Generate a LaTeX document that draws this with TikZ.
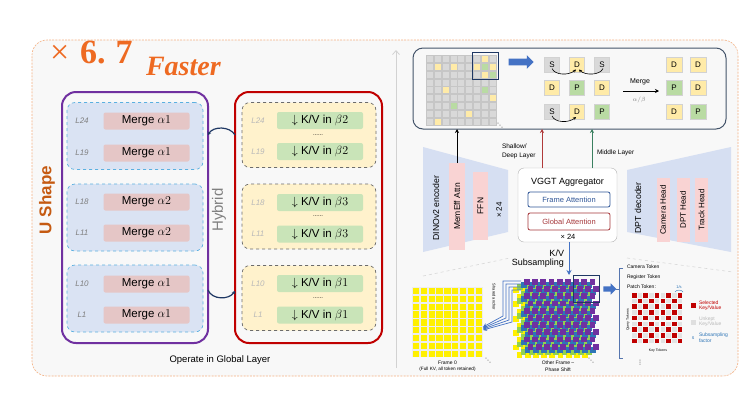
\documentclass[tikz,border=0pt]{standalone}
\usepackage{fontspec}
\setmainfont{Liberation Sans}
\newfontfamily\serifrm{Liberation Serif}
\newfontfamily\djv{DejaVu Sans}
\usetikzlibrary{arrows.meta,shapes.arrows,calc}
\newcommand\fsz[1]{\fontsize{#1}{#1}\selectfont}
\definecolor{orangeb}{HTML}{F4B183}
\definecolor{panelbg}{HTML}{F8F8F8}
\definecolor{upurple}{HTML}{7030A0}
\definecolor{hred}{HTML}{C00000}
\definecolor{bluedash}{HTML}{5BB0E0}
\definecolor{lblue}{HTML}{DAE3F3}
\definecolor{lyel}{HTML}{FFF2CC}
\definecolor{pinkpill}{HTML}{E5C6C6}
\definecolor{greenpill}{HTML}{C9E4B8}
\definecolor{navy}{HTML}{1F3864}
\definecolor{boxnavy}{HTML}{44546A}
\definecolor{fatblue}{HTML}{4472C4}
\definecolor{tgray}{HTML}{D9D9D9}
\definecolor{tyel}{HTML}{FFEBA8}
\definecolor{tgreen}{HTML}{B9DBA3}
\definecolor{encblue}{HTML}{D6DFF2}
\definecolor{lpink}{HTML}{F9D3D3}
\definecolor{attblue}{HTML}{2F5597}
\definecolor{attred}{HTML}{A5373A}
\definecolor{arrred}{HTML}{B03A3A}
\definecolor{arrgreen}{HTML}{3A8060}
\definecolor{fyel}{HTML}{FFF000}
\definecolor{spurple}{HTML}{7030A0}
\definecolor{sblue}{HTML}{2E75B6}
\definecolor{sgreen}{HTML}{92D050}
\definecolor{chkred}{HTML}{C00000}
\definecolor{ushapec}{HTML}{C55A11}
\definecolor{fastc}{HTML}{EE6A22}
\begin{document}
\begin{tikzpicture}[x=1pt,y=-1pt,
  every node/.style={inner sep=0pt,outer sep=0pt},
  grpU/.style={draw=bluedash,dashed,line width=0.7pt,fill=lblue,rounded corners=8pt,minimum width=136pt,minimum height=67pt},
  grpH/.style={draw=gray!85!black,dashed,line width=0.7pt,fill=lyel,rounded corners=8pt,minimum width=134pt,minimum height=65pt},
  mergepill/.style={fill=pinkpill,rounded corners=2pt,minimum width=86pt,minimum height=17pt,font=\fsz{11.5}},
  kvpill/.style={fill=greenpill,rounded corners=2pt,minimum width=86pt,minimum height=17pt,font=\fsz{11.5}},
  laylab/.style={font=\fsz{8}\itshape,text=gray},
  laylabh/.style={font=\fsz{8}\itshape,text=gray!55},
  tile/.style={minimum width=15pt,minimum height=15pt,font=\fsz{8},draw=gray!35,line width=.4pt},
  tS/.style={tile,fill=tgray},
  tD/.style={tile,fill=tyel},
  tP/.style={tile,fill=tgreen},
  vpill/.style={rotate=90,fill=lpink,font=\fsz{8.5}},
  hybc/.style={navy,line width=1.2pt,-{Stealth[length=3pt,width=4pt]}},
  tiny/.style={font=\fsz{5}},
  dotsym/.style={font=\djv\fsz{6}},
  curv/.style={line width=.6pt,-{Stealth[length=3pt,width=3pt]}},
  fat/.style={single arrow,fill=fatblue,inner xsep=0pt,inner ysep=3.2pt,single arrow head extend=3.5pt}
]
\useasboundingbox (0,0) rectangle (750,400);
\fill[white] (0,0) rectangle (750,400);
\node[draw=orangeb,fill=panelbg,dash pattern=on 2pt off 1.2pt,line width=.6pt,rounded corners=15pt,minimum width=706pt,minimum height=336pt] (panel) at (385,208) {};

% title
\node[anchor=base west,text=fastc,font=\serifrm\fsz{34}] (speed) at (50,63) {×\hspace{11pt}\textbf{6.\hspace{10pt}7}};
\node[anchor=base west,text=fastc,font=\serifrm\bfseries\itshape\fsz{28}] (faster) at (146,75) {Faster};

% divider
\coordinate (dvt) at (396,50);
\coordinate (dvb) at (396,368);
\draw[gray!35,line width=.8pt,-{Straight Barb[length=4pt,width=7pt]}] (dvb) -- (dvt);

% ---------- U shape ----------
\node[draw=upurple,line width=2pt,rounded corners=14pt,minimum width=146pt,minimum height=251pt] (ub) at (135,217.5) {};
\node[grpU] (u1) at (135,136) {};
\node[grpU] (u2) at (135,217.5) {};
\node[grpU] (u3) at (135,298.5) {};
\node[mergepill] (m1) at (146.5,121) {Merge $\alpha1$};
\node[mergepill] (m2) at (146.5,153) {Merge $\alpha1$};
\node[mergepill] (m3) at (146.5,202) {Merge $\alpha2$};
\node[mergepill] (m4) at (146.5,233) {Merge $\alpha2$};
\node[mergepill] (m5) at (146.5,284) {Merge $\alpha1$};
\node[mergepill] (m6) at (146.5,315) {Merge $\alpha1$};
\node[laylab] (la1) at (82,121) {L24};
\node[laylab] (la2) at (82,153) {L19};
\node[laylab] (la3) at (82,202) {L18};
\node[laylab] (la4) at (82,233) {L11};
\node[laylab] (la5) at (82,284) {L10};
\node[laylab] (la6) at (82,315) {L1};
\node[rotate=90,font=\bfseries\fsz{17},text=ushapec] (ulab) at (47,200) {U Shape};

% ---------- Hybrid ----------
\node[draw=hred,line width=2pt,rounded corners=14pt,minimum width=147pt,minimum height=251pt] (hb) at (308.5,217.5) {};
\node[grpH] (h1) at (309,135) {};
\node[grpH] (h2) at (309,216.5) {};
\node[grpH] (h3) at (309,298) {};
\node[kvpill] (k1) at (320,120.5) {$\downarrow$ K/V in $\beta2$};
\node[kvpill] (k2) at (320,151.5) {$\downarrow$ K/V in $\beta2$};
\node[kvpill] (k3) at (320,202.5) {$\downarrow$ K/V in $\beta3$};
\node[kvpill] (k4) at (320,234) {$\downarrow$ K/V in $\beta3$};
\node[kvpill] (k5) at (320,283.5) {$\downarrow$ K/V in $\beta1$};
\node[kvpill] (k6) at (320,315) {$\downarrow$ K/V in $\beta1$};
\node[font=\fsz{6}] (d1) at (318,135) {......};
\node[font=\fsz{6}] (d2) at (318,216.5) {......};
\node[font=\fsz{6}] (d3) at (318,298) {......};
\node[laylabh] (lb1) at (258,120.5) {L24};
\node[laylabh] (lb2) at (258,151.5) {L19};
\node[laylabh] (lb3) at (258,202.5) {L18};
\node[laylabh] (lb4) at (258,234) {L11};
\node[laylabh] (lb5) at (258,283.5) {L10};
\node[laylabh] (lb6) at (258,315) {L1};
\node[rotate=90,font=\fsz{15},text=gray] (hlab) at (219,210) {Hybrid};
\coordinate (ha1) at (208,135);
\coordinate (hb1) at (235,135);
\coordinate (ha2) at (208,290);
\coordinate (hb2) at (235,291);
\draw[hybc] (hb1) .. controls (230,126) and (213,126) .. (ha1);
\draw[hybc] (ha2) .. controls (212,300) and (229,300) .. (hb2);
\node[font=\fsz{9.5}] (opl) at (220,360) {Operate in Global Layer};

% ---------- top right box ----------
\node[draw=boxnavy,line width=1pt,rounded corners=10pt,minimum width=313pt,minimum height=81pt] (topbox) at (569.5,88.5) {};
\foreach \i in {0,...,8}{\foreach \j in {0,...,8}{
  \filldraw[fill=tgray,draw=gray!45,line width=.3pt] ({426+\i*7.9},{55+\j*7.9}) rectangle +(7,7);}}
\foreach \i/\j/\c in {1/1/tyel,3/1/tyel,7/0/tyel,6/1/tyel,7/1/tgreen,8/1/tyel,7/2/tyel,8/2/tgreen,2/4/tyel,7/4/tgreen,8/5/tyel,3/6/tgreen,5/7/tyel,1/8/tyel}{
  \filldraw[fill=\c,draw=gray!45,line width=.3pt] ({426+\i*7.9},{55+\j*7.9}) rectangle +(7,7);}
\node[draw=navy,line width=1pt,minimum width=26pt,minimum height=27pt] (hl1) at (485,66) {};
\node[dotsym] (dd0) at (500,126) {⋱};
\node[fat,minimum height=25pt] (fa1) at (519.5,62) {};
\node[tS] (t11) at (552,64.5) {S};
\node[tD] (t12) at (577,64.5) {D};
\node[tS] (t13) at (602,64.5) {S};
\node[tD] (t21) at (552,88) {D};
\node[tP] (t22) at (577,88) {P};
\node[tD] (t23) at (602,88) {D};
\node[tS] (t31) at (552,112) {S};
\node[tD] (t32) at (577,112) {D};
\node[tP] (t33) at (602,112) {P};
\draw[curv] ($(t11.center)+(0,4)$) .. controls ($(t11.center)+(3,11)$) and ($(t12.center)+(-8,11)$) .. ($(t12.center)+(-1,5)$);
\draw[curv] ($(t13.center)+(1,4)$) .. controls ($(t13.center)+(-2,11)$) and ($(t12.center)+(8,11)$) .. ($(t12.center)+(2,5)$);
\draw[curv] ($(t31.center)+(0,4)$) .. controls ($(t31.center)+(3,11)$) and ($(t32.center)+(-8,11)$) .. ($(t32.center)+(-1,5)$);
\node[tD,minimum width=16pt] (r11) at (674,64.5) {D};
\node[tD,minimum width=16pt] (r12) at (698,64.5) {D};
\node[tP,minimum width=16pt] (r21) at (674,88) {P};
\node[tD,minimum width=16pt] (r22) at (698,88) {D};
\node[tD,minimum width=16pt] (r31) at (674,112) {D};
\node[tP,minimum width=16pt] (r32) at (698,112) {P};
\coordinate (ma) at (623,91);
\coordinate (mb) at (659,91);
\draw[line width=.7pt,-{Stealth[length=4pt,width=4pt]}] (ma) -- (mb);
\node[font=\fsz{7}] (mgl) at (640,82) {Merge};
\node[font=\fsz{6},text=gray] (abl) at (639,99.5) {$\alpha/\beta$};

% ---------- encoder ----------
\fill[encblue] (423,147) -- (508,170) -- (508,232) -- (423,252) -- cycle;
\node[rotate=90,font=\fsz{8.7}] (dino) at (436,208) {DINOv2 encoder};
\node[vpill,minimum width=87pt,minimum height=16pt] (mem) at (457,206.5) {MemEff Attn};
\node[vpill,minimum width=68pt,minimum height=15pt] (ffn) at (480.5,206) {FFN};
\node[rotate=90,font=\fsz{8}] (x24a) at (499,210) {× 24};

% ---------- decoder ----------
\fill[encblue] (627,170) -- (731,147) -- (731,252) -- (627,232) -- cycle;
\node[rotate=90,font=\fsz{8.7}] (dpt) at (638,208) {DPT decoder};
\node[vpill,minimum width=64pt,minimum height=13pt,font=\fsz{8}] (cam) at (663,210) {Camera Head};
\node[vpill,minimum width=64pt,minimum height=13pt,font=\fsz{8}] (dph) at (683,210) {DPT Head};
\node[vpill,minimum width=64pt,minimum height=13pt,font=\fsz{8}] (trk) at (701.5,210) {Track Head};

% ---------- VGGT ----------
\node[draw=gray!60,fill=white,rounded corners=6pt,minimum width=99pt,minimum height=74pt] (vggt) at (567.5,205) {};
\node[font=\fsz{9}] (vgl) at (567.5,182) {VGGT Aggregator};
\node[draw=attblue,line width=.8pt,rounded corners=2pt,minimum width=82pt,minimum height=15pt,font=\fsz{7.5},text=attblue] (fatt) at (569,199.5) {Frame Attention};
\node[draw=attred,line width=.8pt,rounded corners=2pt,minimum width=82pt,minimum height=17pt,font=\fsz{7.5},text=attred] (gatt) at (569,221.5) {Global Attention};
\node[font=\fsz{7.5}] (x24b) at (568,237) {× 24};

\draw[line width=.8pt,-{Stealth[length=4pt,width=4pt]}] (mem.east) -- (mem.east |- topbox.south);
\draw[arrred,line width=.8pt,-{Stealth[length=4pt,width=4pt]}] ([xshift=-25.5pt]vggt.north) -- ([xshift=-27.5pt]topbox.south);
\draw[arrgreen,line width=.8pt,-{Stealth[length=4pt,width=4pt]}] ([xshift=24.5pt]vggt.north) -- ([xshift=22.5pt]topbox.south);
\node[anchor=west,align=left,font=\fontsize{6.5}{8.5}\selectfont] (sdl) at (502,151.5) {Shallow/\\Deep Layer};
\node[anchor=west,font=\fsz{6.5}] (mdl) at (597,153) {Middle Layer};

% perspective lines
\draw[gray!30,dashed,line width=.6pt] (423,276) -- (510,258);
\draw[gray!30,dashed,line width=.6pt] (627,258) -- (733,272);

% ---------- bottom ----------
\node[minimum width=90pt,minimum height=78pt] (stk) at (560,314) {};
\draw[fatblue,line width=1pt,-{Stealth[length=5pt,width=5pt]}] ([xshift=1.5pt]vggt.south) -- (stk.north -| 569,0);
\node[anchor=east,align=right,font=\fontsize{9}{9.5}\selectfont] (kvs) at (564,258.5) {K/V\\Subsampling};

% frame 0
\node[minimum width=71pt,minimum height=70pt] (f0) at (447.5,322) {};
\fill[gray!14] (412,287) rectangle (483,357);
\foreach \i in {0,...,8}{\foreach \j in {0,...,8}{
  \fill[fyel] ({412.8+\i*7.85},{287.8+\j*7.85}) rectangle +(6.3,6.3);}}
\node[tiny] (f0t) at (447.5,363) {Frame 0};
\node[font=\fsz{4.7}] (f0s) at (447.5,369.5) {(Full KV, all token retained)};
\node[dotsym] (dd1) at (488,361) {⋱};

% stack
\foreach \dx/\dy/\c in {-11/8/fyel,-7/5/sgreen,-3/3/sblue,0/0/spurple}{
  \foreach \r in {0,...,9}{
    \pgfmathsetmacro\off{mod(\r,2)*3.5}
    \foreach \k in {0,...,8}{
      \fill[\c] ({524+\dx+\off+\k*8.2},{279+\dy+\r*7.2}) rectangle +(5.8,5.8);
    }}}
\node[draw=navy,line width=1pt,minimum width=26pt,minimum height=27pt] (hl2) at (586,288.5) {};
\node[fat,minimum height=13pt,inner ysep=2.5pt,single arrow head extend=3pt] (fa2) at (608.5,289) {};
\node[tiny] (oft) at (558,363) {Other Frame –};
\node[tiny] (ofs) at (558,369.5) {Phase Shift};
\node[dotsym] (dd2) at (591,361) {⋱};

% shared anchor lines
\foreach \k in {0,1,2,3}{
  \draw[fatblue,line width=.7pt,-{Stealth[length=4pt,width=4pt]}] (521,{281+3*\k}) -- ({503+3*\k},{281+3*\k}) -- ({503+3*\k},{316+2*\k}) -- (f0.east |- 0,{327+\k});
}
\node[rotate=-90,font=\fsz{4}] (sha) at (494,297) {Shared anchor};

% bracket
\coordinate (bt) at (623,268);
\coordinate (bb) at (623,358);
\draw[fatblue!70!gray,line width=.8pt] (bt) -- (619,268) -- (619,358) -- (bb);
\draw[fatblue!70!gray,line width=.8pt] (619,289) -- (fa2.tip);
\node[anchor=west,tiny] (ct) at (627,267) {Camera Token};
\node[anchor=west,tiny] (rt) at (627,277) {Register Token};
\node[anchor=west,tiny] (pt) at (627,287) {Patch Token:};

% checkerboard
\foreach \i in {0,...,8}{\foreach \j in {0,...,8}{
  \pgfmathtruncatemacro\e{mod(\i+\j,2)}
  \ifnum\e=0 \def\cc{chkred}\else\def\cc{gray!22}\fi
  \fill[\cc] ({632+\i*5.7},{293+\j*5.7}) rectangle +(4.6,4.6);}}
\node[rotate=90,font=\fsz{3.5}] (qt) at (628,320) {Query Tokens};
\node[font=\fsz{3.5}] (kt) at (658,351) {Key Tokens};
\node[font=\fsz{4},text=sblue] (sf) at (679,287.5) {1/s};
\draw[sblue,line width=.4pt] (675,292) .. controls (676,289.5) and (682,289.5) .. (683,292);
\node[dotsym] (vd) at (640,363) {⋮};

% legend
\node[fill=chkred,minimum size=5pt] (lg1) at (693,305.5) {};
\node[anchor=west,align=left,font=\fontsize{5}{5.5}\selectfont,text=chkred] (lg1t) at (699,305.5) {Selected\\Key/Value};
\node[fill=gray!25,minimum size=5pt] (lg2) at (693,322.5) {};
\node[anchor=west,align=left,font=\fontsize{5}{5.5}\selectfont,text=gray!55] (lg2t) at (699,321.5) {Unkept\\Key/Value};
\node[font=\fsz{5},text=sblue] (lg3) at (693,338) {s};
\node[anchor=west,align=left,font=\fontsize{5}{5.5}\selectfont,text=sblue] (lg3t) at (699,337.5) {Subsampling\\factor};
\end{tikzpicture}
\end{document}
